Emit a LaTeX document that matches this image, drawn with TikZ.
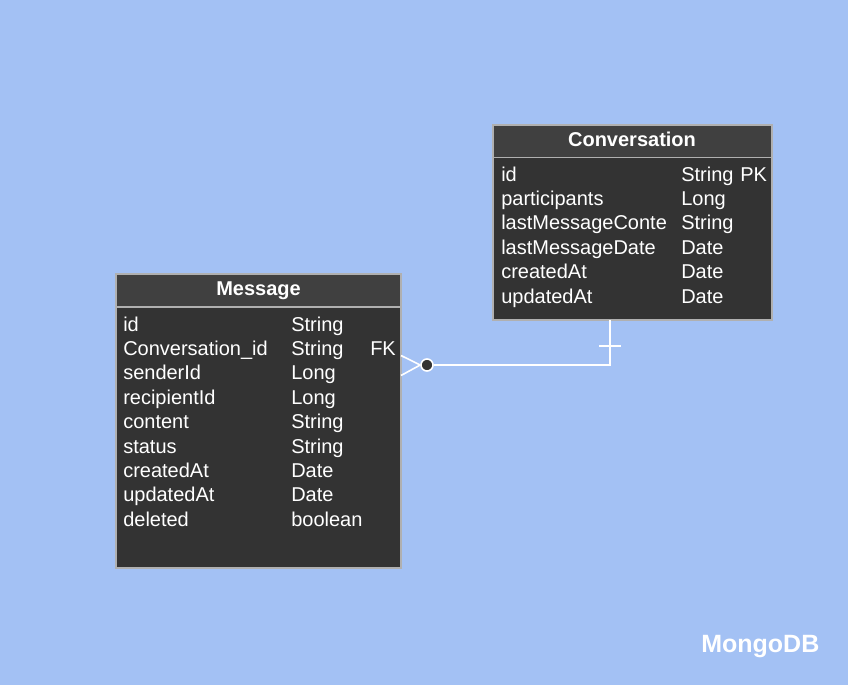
\documentclass[tikz,border=0pt]{standalone}
\usepackage{fontspec}
\setmainfont{Liberation Sans}
\definecolor{bg}{HTML}{A3C1F4}
\definecolor{boxfill}{HTML}{333333}
\definecolor{headfill}{HTML}{404040}
\definecolor{boxline}{HTML}{B0B0B0}
\begin{document}
\begin{tikzpicture}[x=0.75pt,y=-0.75pt,
  entbox/.style={draw=boxline,line width=1pt,fill=boxfill,inner sep=0pt},
  headbox/.style={draw=boxline,line width=1pt,fill=headfill,inner sep=0pt},
  rowtxt/.style={anchor=base west,inner sep=0pt,text=white,font=\fontsize{15}{18}\selectfont},
  headtxt/.style={anchor=base,inner sep=0pt,text=white,font=\fontsize{15}{18}\selectfont\bfseries},
  conn/.style={draw=white,line width=1.2pt}]
\useasboundingbox (0,0) rectangle (848,685);
\fill[bg] (0,0) rectangle (848,685);
% Conversation
\path[entbox] (493,125) rectangle (772,320);
\path[headbox] (493,125) rectangle (772,157.5);
\node (convbox) [minimum width=0pt, inner sep=0pt] at (632.5,222.5) {};
\coordinate (convbot) at (610,320);
\node[headtxt] (convh) at (632,146) {Conversation};
\foreach \n/\t/\k [count=\i from 0] in {id/String/PK,participants/Long/,lastMessageConte/String/,lastMessageDate/Date/,createdAt/Date/,updatedAt/Date/}{
  \node[rowtxt] (cn\i) at (501,181+24.4*\i) {\n};
  \node[rowtxt] (ct\i) at (681,181+24.4*\i) {\t};
  \node[rowtxt] (ck\i) at (740,181+24.4*\i) {\k};
}
% Message
\path[entbox] (116,274) rectangle (401,568);
\path[headbox] (116,274) rectangle (401,307);
\node[headtxt] (msgh) at (258.5,295) {Message};
\foreach \n/\t/\k [count=\i from 0] in {id/String/,Conversation\_id/String/FK,senderId/Long/,recipientId/Long/,content/String/,status/String/,createdAt/Date/,updatedAt/Date/,deleted/boolean/}{
  \node[rowtxt] (mn\i) at (123,331+24.4*\i) {\n};
  \node[rowtxt] (mt\i) at (291,331+24.4*\i) {\t};
  \node[rowtxt] (mk\i) at (370,331+24.4*\i) {\k};
}
% connector
\coordinate (corner) at (610,365);
\node (dot) [circle,draw=white,fill=boxfill,line width=1.2pt,minimum size=9pt,inner sep=0pt] at (427,365) {};
\coordinate (prongA) at (401,355.5);
\coordinate (prongB) at (401,375.5);
\coordinate (tickL) at (599,346);
\coordinate (tickR) at (621,346);
\draw[conn] (convbot) -- (corner) -- (dot);
\draw[conn] (tickL) -- (tickR);
\draw[conn] (prongA) -- (dot.west);
\draw[conn] (prongB) -- (dot.west);
\node[anchor=base west,inner sep=0pt,text=white,font=\fontsize{18.75}{22}\selectfont\bfseries] (mongo) at (701,652) {MongoDB};
\end{tikzpicture}
\end{document}
